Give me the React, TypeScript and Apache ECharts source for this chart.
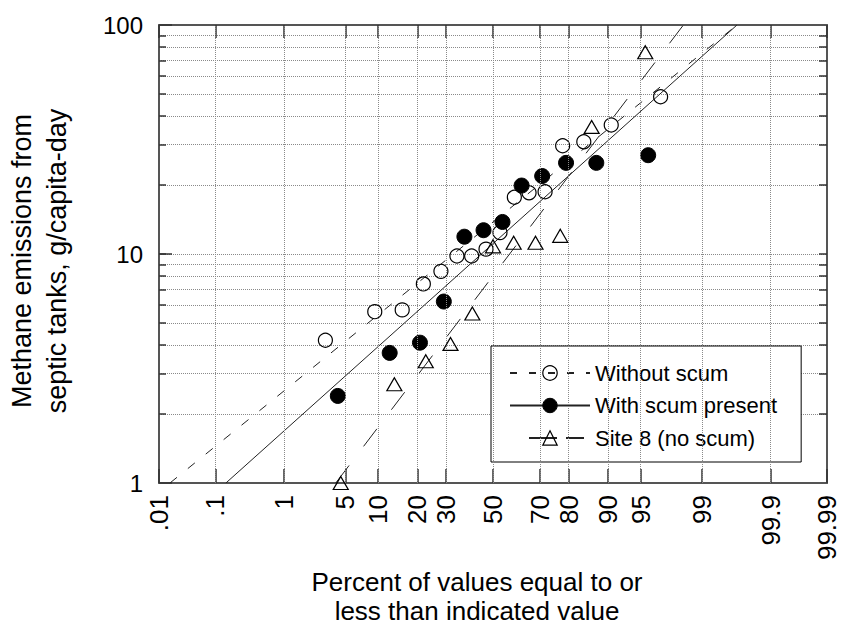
import React, { useEffect, useRef } from 'react';
import * as echarts from 'echarts';

// ---- tick definitions ----
const xTickPercents = [0.01, 0.1, 1, 5, 10, 20, 30, 50, 70, 80, 90, 95, 99, 99.9, 99.99];
const xTickLabels = ['.01', '.1', '1', '5', '10', '20', '30', '50', '70', '80', '90', '95', '99', '99.9', '99.99'];
const yRange = [1, 100];
const yMinorTicks = [2, 3, 4, 5, 6, 7, 8, 9, 10, 20, 30, 40, 50, 60, 70, 80, 90];

// ---- data (percent of values <= value, g/capita-day) ----
const withoutScumPct = [3.1, 9.4, 15.6, 21.9, 28.1, 34.4, 40.6, 46.9, 53.1, 59.4, 65.6, 71.9, 78.1, 84.4, 90.6, 96.9];
const withoutScumVal = [4.2, 5.6, 5.7, 7.4, 8.4, 9.8, 9.8, 10.5, 12.4, 17.7, 18.5, 18.7, 29.7, 30.9, 36.6, 48.6];

const withScumPct = [4.2, 12.5, 20.8, 29.2, 37.5, 45.8, 54.2, 62.5, 70.8, 79.2, 87.5, 95.8];
const withScumVal = [2.4, 3.7, 4.1, 6.2, 11.9, 12.7, 13.8, 19.9, 21.9, 25.0, 25.0, 27.0];

const site8Pct = [4.5, 13.6, 22.7, 31.8, 40.9, 50, 59.1, 68.2, 77.3, 86.4, 95.5];
const site8Val = [1.0, 2.7, 3.4, 4.05, 5.5, 10.8, 11.2, 11.2, 12.0, 35.9, 76];

// fitted lines (endpoints)
const withoutFitPct = [0.0161, 99.67];
const withoutFitVal = [1, 100];
const withFitPct = [0.147, 99.67];
const withFitVal = [1, 100];
const site8FitPct = [4.0, 98.3];
const site8FitVal = [1, 100];

// inverse standard normal CDF (Acklam) — the probability-scale transform
function qnorm(p: number): number {
  const a = [-3.969683028665376e1, 2.209460984245205e2, -2.759285104469687e2, 1.38357751867269e2, -3.066479806614716e1, 2.506628277459239];
  const b = [-5.447609879822406e1, 1.615858368580409e2, -1.556989798598866e2, 6.680131188771972e1, -1.328068155288572e1];
  const c = [-7.784894002430293e-3, -3.223964580411365e-1, -2.400758277161838, -2.549732539343734, 4.374664141464968, 2.938163982698783];
  const d = [7.784695709041462e-3, 3.224671290700398e-1, 2.445134137142996, 3.754408661907416];
  const plow = 0.02425;
  if (p < plow) {
    const q = Math.sqrt(-2 * Math.log(p));
    return (((((c[0] * q + c[1]) * q + c[2]) * q + c[3]) * q + c[4]) * q + c[5]) / ((((d[0] * q + d[1]) * q + d[2]) * q + d[3]) * q + 1);
  }
  if (p <= 1 - plow) {
    const q = p - 0.5;
    const r = q * q;
    return ((((((a[0] * r + a[1]) * r + a[2]) * r + a[3]) * r + a[4]) * r + a[5]) * q) / (((((b[0] * r + b[1]) * r + b[2]) * r + b[3]) * r + b[4]) * r + 1);
  }
  const q = Math.sqrt(-2 * Math.log(1 - p));
  return -(((((c[0] * q + c[1]) * q + c[2]) * q + c[3]) * q + c[4]) * q + c[5]) / ((((d[0] * q + d[1]) * q + d[2]) * q + d[3]) * q + 1);
}
const qz = (pct: number) => qnorm(pct / 100);

const pair = (pcts: number[], vals: number[]) => pcts.map((p, i) => [qz(p), vals[i]]);

const FONT = '"Liberation Sans", Arial, sans-serif';
const xMin = qz(xTickPercents[0]);
const xMax = qz(xTickPercents[xTickPercents.length - 1]);
const xTickZ = xTickPercents.map(qz);

const openStyle = { color: 'rgba(255,255,255,0)', borderColor: '#000', borderWidth: 1.2, opacity: 1 };
const filledStyle = { color: '#000', borderColor: '#000', borderWidth: 1, opacity: 1 };
const GRID_COLOR = '#8a8a8a';

export default function App() {
  const ref = useRef<HTMLDivElement>(null);
  useEffect(() => {
    if (!ref.current) return;
    const chart = echarts.init(ref.current, undefined, { renderer: 'svg' });
    const gridLine = { show: true, lineStyle: { color: GRID_COLOR, width: 1, type: [1, 1] as any } };
    const borderLine = { show: true, onZero: false, lineStyle: { color: '#555', width: 2 } };
    chart.setOption({
      animation: false,
      backgroundColor: '#fff',
      grid: { left: 159, right: 19, top: 25, bottom: 142, containLabel: false, outerBoundsMode: 'none' },
      xAxis: [
        {
          type: 'value',
          min: xMin,
          max: xMax,
          position: 'bottom',
          axisLine: borderLine,
          axisTick: { show: true, inside: true, length: 14, customValues: xTickZ, lineStyle: { color: '#333', width: 1.5 } },
          splitLine: { show: false },
          axisLabel: {
            customValues: xTickZ,
            rotate: 90,
            margin: 12,
            fontSize: 26,
            color: '#000',
            fontFamily: FONT,
            formatter: (v: number) => {
              const i = xTickZ.findIndex((z) => Math.abs(z - v) < 1e-6);
              return i >= 0 ? xTickLabels[i] : '';
            },
          },
          name: 'Percent of values equal to or\nless than indicated value',
          nameLocation: 'middle',
          nameGap: 80,
          nameTextStyle: { fontSize: 26, lineHeight: 29, color: '#000', fontFamily: FONT, padding: [0, 32, 0, 0] },
        },
        {
          type: 'value',
          min: xMin,
          max: xMax,
          position: 'top',
          axisLine: borderLine,
          axisTick: { show: true, inside: true, length: 13, customValues: xTickZ, lineStyle: { color: '#333', width: 1.5 } },
          splitLine: { show: false },
          axisLabel: { show: false },
        },
      ],
      yAxis: [
        {
          type: 'log',
          logBase: 10,
          min: yRange[0],
          max: yRange[1],
          position: 'left',
          axisLine: borderLine,
          axisTick: { show: true, inside: true, length: 13, lineStyle: { color: '#333', width: 1.5 } },
          splitLine: { show: false },
          minorTick: { show: false },
          axisLabel: { margin: 16, fontSize: 24, color: '#000', fontFamily: FONT, formatter: (v: number) => String(v) },
          name: 'Methane emissions from\nseptic tanks, g/capita-day',
          nameLocation: 'middle',
          nameRotate: 90,
          nameGap: 85,
          nameTextStyle: { fontSize: 27, lineHeight: 35, color: '#000', fontFamily: FONT, padding: [0, 14, 0, 0] },
        },
        {
          type: 'log',
          logBase: 10,
          min: yRange[0],
          max: yRange[1],
          position: 'left',
          axisLine: { show: false, onZero: false },
          axisTick: { show: true, inside: true, length: 7, customValues: yMinorTicks, lineStyle: { color: '#333', width: 1.5 } },
          splitLine: gridLine,
          axisLabel: { show: false },
        },
        {
          type: 'log',
          logBase: 10,
          min: yRange[0],
          max: yRange[1],
          position: 'right',
          axisLine: borderLine,
          axisTick: { show: true, inside: true, length: 8, customValues: yMinorTicks, lineStyle: { color: '#333', width: 1.5 } },
          splitLine: { show: false },
          axisLabel: { show: false },
        },
      ],
      legend: {
        orient: 'vertical',
        left: 491,
        top: 346,
        padding: [15, 24, 12, 18],
        itemGap: 8.5,
        itemWidth: 80,
        itemHeight: 18,
        backgroundColor: '#fff',
        borderColor: '#000',
        borderWidth: 1,
        borderRadius: 0,
        selectedMode: false,
        textStyle: { fontSize: 22, lineHeight: 24, color: '#000', fontFamily: FONT },
        data: [
          { name: 'Without scum', itemStyle: openStyle, lineStyle: { type: [7, 12], dashOffset: 0 } },
          { name: 'With scum present', itemStyle: filledStyle },
          { name: 'Site 8 (no scum)', itemStyle: openStyle, lineStyle: { type: [28, 9, 18, 19], dashOffset: 55 } },
        ],
      },
      series: [
        {
          name: 'Without scum',
          type: 'line',
          data: pair(withoutFitPct, withoutFitVal),
          symbol: 'circle',
          showSymbol: false,
          lineStyle: { color: '#222', width: 1, type: [9, 14] },
          itemStyle: openStyle,
          z: 2,
          silent: true,
          markLine: {
            silent: true,
            symbol: ['none', 'none'],
            label: { show: false },
            emphasis: { disabled: true },
            lineStyle: { color: GRID_COLOR, width: 1, type: [1, 1] },
            data: xTickZ.slice(1, -1).map((z) => [{ coord: [z, yRange[0]] }, { coord: [z, yRange[1]] }]),
          },
        },
        {
          name: 'With scum present',
          type: 'line',
          data: pair(withFitPct, withFitVal),
          symbol: 'circle',
          showSymbol: false,
          lineStyle: { color: '#222', width: 1, type: 'solid' },
          itemStyle: filledStyle,
          z: 2,
          silent: true,
        },
        {
          name: 'Site 8 (no scum)',
          type: 'line',
          data: pair(site8FitPct, site8FitVal),
          symbol: 'triangle',
          showSymbol: false,
          lineStyle: { color: '#222', width: 1, type: [22, 24] },
          itemStyle: openStyle,
          z: 2,
          silent: true,
        },
        {
          name: 'Without scum',
          type: 'scatter',
          data: pair(withoutScumPct, withoutScumVal),
          symbol: 'circle',
          symbolSize: 14,
          itemStyle: openStyle,
          z: 3,
        },
        {
          name: 'With scum present',
          type: 'scatter',
          data: pair(withScumPct, withScumVal),
          symbol: 'circle',
          symbolSize: 15,
          itemStyle: filledStyle,
          z: 4,
        },
        {
          name: 'Site 8 (no scum)',
          type: 'scatter',
          data: pair(site8Pct, site8Val),
          symbol: 'triangle',
          symbolSize: [15, 13],
          itemStyle: openStyle,
          z: 5,
        },
      ],
    });
    return () => chart.dispose();
  }, []);
  return <div ref={ref} style={{ position: 'absolute', left: 0, top: 0, width: 846, height: 625 }} />;
}
